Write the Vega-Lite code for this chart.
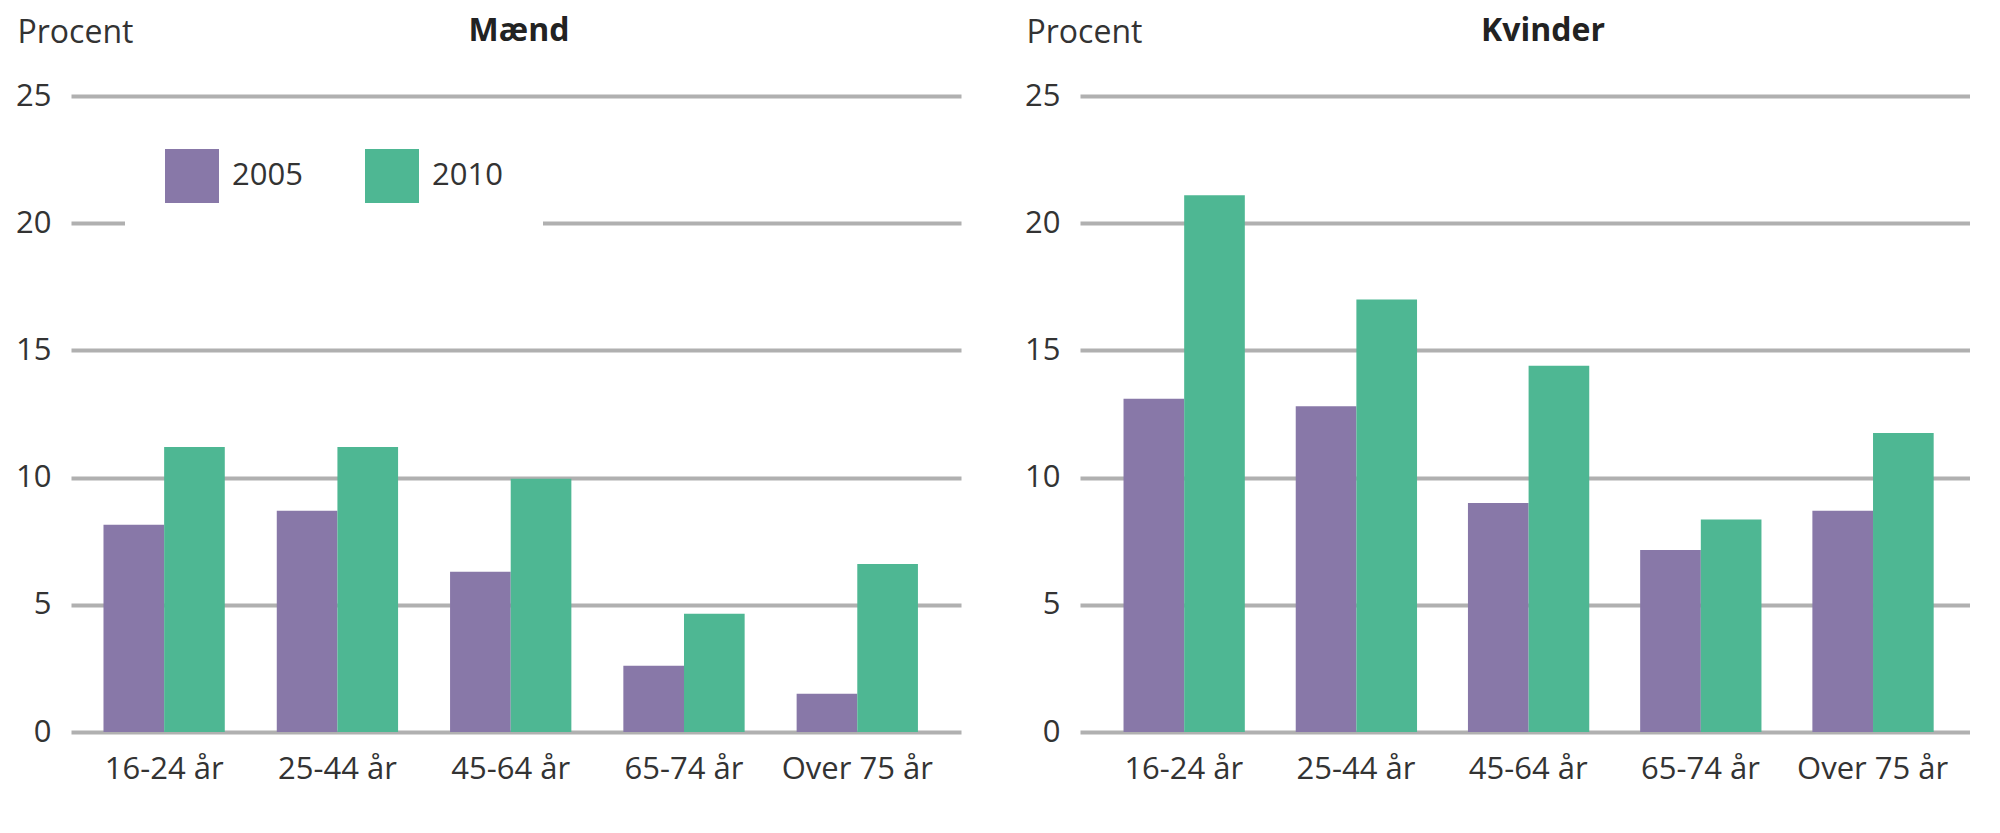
{
  "$schema": "https://vega.github.io/schema/vega-lite/v6.json",
  "padding": {"left": 15, "top": 15, "right": 0, "bottom": 10},
  "background": "white",
  "config": {
    "font": "Open Sans",
    "view": {"stroke": null},
    "axisX": {"title": null, "domain": false, "ticks": false, "grid": false, "labelPadding": 22, "labelFontSize": 31, "labelAngle": 0, "labelColor": "#333333"},
    "axisY": {"domain": false, "ticks": false, "labelPadding": 20, "labelFontSize": 31, "labelColor": "#333333", "gridColor": "#b0b0b0", "gridWidth": 4, "titleAngle": 0, "titleAlign": "left", "titleBaseline": "top", "titleX": -54, "titleY": -79, "titleFontSize": 32, "titleFontWeight": "normal", "titleColor": "#333333"}
  },
  "data": {
    "values": [
      {"sex": "Mænd", "age": "16-24 år", "year": "2005", "value": 8.15},
      {"sex": "Mænd", "age": "16-24 år", "year": "2010", "value": 11.2},
      {"sex": "Mænd", "age": "25-44 år", "year": "2005", "value": 8.7},
      {"sex": "Mænd", "age": "25-44 år", "year": "2010", "value": 11.2},
      {"sex": "Mænd", "age": "45-64 år", "year": "2005", "value": 6.3},
      {"sex": "Mænd", "age": "45-64 år", "year": "2010", "value": 9.95},
      {"sex": "Mænd", "age": "65-74 år", "year": "2005", "value": 2.6},
      {"sex": "Mænd", "age": "65-74 år", "year": "2010", "value": 4.65},
      {"sex": "Mænd", "age": "Over 75 år", "year": "2005", "value": 1.5},
      {"sex": "Mænd", "age": "Over 75 år", "year": "2010", "value": 6.6},
      {"sex": "Kvinder", "age": "16-24 år", "year": "2005", "value": 13.1},
      {"sex": "Kvinder", "age": "16-24 år", "year": "2010", "value": 21.1},
      {"sex": "Kvinder", "age": "25-44 år", "year": "2005", "value": 12.8},
      {"sex": "Kvinder", "age": "25-44 år", "year": "2010", "value": 17.0},
      {"sex": "Kvinder", "age": "45-64 år", "year": "2005", "value": 9.0},
      {"sex": "Kvinder", "age": "45-64 år", "year": "2010", "value": 14.4},
      {"sex": "Kvinder", "age": "65-74 år", "year": "2005", "value": 7.15},
      {"sex": "Kvinder", "age": "65-74 år", "year": "2010", "value": 8.35},
      {"sex": "Kvinder", "age": "Over 75 år", "year": "2005", "value": 8.7},
      {"sex": "Kvinder", "age": "Over 75 år", "year": "2010", "value": 11.75}
    ]
  },
  "spacing": 63,
  "resolve": {"scale": {"color": "independent"}},
  "hconcat": [
    {
      "width": 890,
      "height": 636,
      "transform": [{"filter": "datum.sex === 'Mænd'"}],
      "title": {"text": "Mænd", "fontSize": 32, "fontWeight": "bold", "color": "#222222", "baseline": "top", "offset": -32, "anchor": "middle", "frame": "group", "dx": 3},
      "mark": {"type": "bar"},
      "encoding": {
        "x": {"field": "age", "type": "nominal", "sort": ["16-24 år", "25-44 år", "45-64 år", "65-74 år", "Over 75 år"], "scale": {"paddingInner": 0.3, "paddingOuter": 0.218, "align": 0.43}},
        "xOffset": {"field": "year", "type": "nominal"},
        "y": {"field": "value", "type": "quantitative", "scale": {"domain": [0, 25]}, "axis": {"values": [0, 5, 10, 15, 20, 25], "title": "Procent"}},
        "color": {"field": "year", "type": "nominal", "scale": {"domain": ["2005", "2010"], "range": ["#8878a8", "#4eb793"]},
          "legend": {"title": null, "orient": "none", "legendX": 54, "legendY": 13, "direction": "horizontal", "symbolType": "square", "symbolSize": 2916, "symbolStrokeWidth": 0, "symbolOpacity": 1, "labelFontSize": 31, "labelColor": "#333333", "labelOffset": 13, "columnPadding": 62, "padding": 40, "fillColor": "white"}}
      }
    },
    {
      "width": 890,
      "height": 636,
      "transform": [{"filter": "datum.sex === 'Kvinder'"}],
      "title": {"text": "Kvinder", "fontSize": 32, "fontWeight": "bold", "color": "#222222", "baseline": "top", "offset": -32, "anchor": "middle", "frame": "group", "dx": 18},
      "mark": {"type": "bar"},
      "encoding": {
        "x": {"field": "age", "type": "nominal", "sort": ["16-24 år", "25-44 år", "45-64 år", "65-74 år", "Over 75 år"], "scale": {"paddingInner": 0.3, "paddingOuter": 0.234, "align": 0.54}},
        "xOffset": {"field": "year", "type": "nominal"},
        "y": {"field": "value", "type": "quantitative", "scale": {"domain": [0, 25]}, "axis": {"values": [0, 5, 10, 15, 20, 25], "title": "Procent"}},
        "color": {"field": "year", "type": "nominal", "scale": {"domain": ["2005", "2010"], "range": ["#8878a8", "#4eb793"]}, "legend": null}
      }
    }
  ]
}
